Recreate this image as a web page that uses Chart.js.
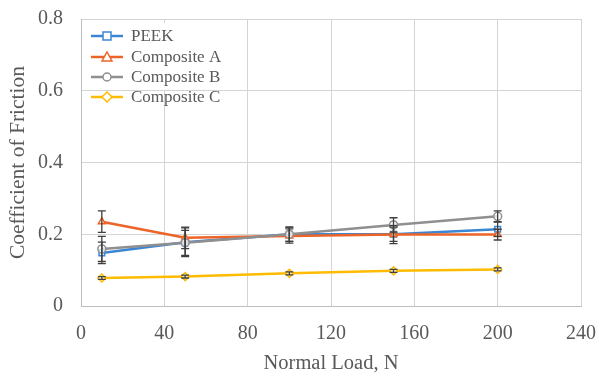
<!DOCTYPE html>
<html>
<head>
<meta charset="utf-8">
<script src="https://cdn.jsdelivr.net/npm/chart.js@4/dist/chart.umd.min.js"></script>
<style>
  html, body { margin: 0; padding: 0; background: #fff; }
  #wrap { width: 606px; height: 376px; position: relative; }
</style>
</head>
<body>
<div id="wrap"><canvas id="chart"></canvas></div>
<script>
const loads = [10, 50, 100, 150, 200]
const seriesNames = ['PEEK', 'Composite A', 'Composite B', 'Composite C']
const peek = [0.148, 0.178, 0.200, 0.200, 0.214]
const compA = [0.235, 0.190, 0.195, 0.199, 0.199]
const compB = [0.159, 0.176, 0.200, 0.226, 0.250]
const compC = [0.078, 0.082, 0.091, 0.098, 0.102]
const peekErr = [0.030, 0.040, 0.020, 0.020, 0.020]
const compAErr = [0.030, 0.030, 0.020, 0.025, 0.015]
const compBErr = [0.035, 0.035, 0.020, 0.020, 0.015]
const compCErr = [0.004, 0.004, 0.004, 0.004, 0.004]
const xTicks = [0, 40, 80, 120, 160, 200, 240]
const yTicks = [0, 0.2, 0.4, 0.6, 0.8]

const FONT = "'Liberation Serif', 'Times New Roman', serif"
const TEXT = '#595959'

const colors = ['#3b86d4', '#ec6427', '#8f8f8f', '#ffbb00']
const styles = ['rect', 'triangle', 'circle', 'rectRot']
const values = [peek, compA, compB, compC]
const errs = [peekErr, compAErr, compBErr, compCErr]

function drawMarker(ctx, style, x, y, r, color) {
  ctx.save()
  ctx.strokeStyle = color
  ctx.fillStyle = '#fff'
  ctx.lineWidth = 1.5
  ctx.beginPath()
  if (style === 'rect') {
    ctx.rect(x - r, y - r, r * 2, r * 2)
  } else if (style === 'triangle') {
    ctx.moveTo(x, y - r - 1)
    ctx.lineTo(x + r + 1, y + r)
    ctx.lineTo(x - r - 1, y + r)
    ctx.closePath()
  } else if (style === 'circle') {
    ctx.arc(x, y, r, 0, Math.PI * 2)
  } else {
    ctx.moveTo(x, y - r - 1)
    ctx.lineTo(x + r + 1, y)
    ctx.lineTo(x, y + r + 1)
    ctx.lineTo(x - r - 1, y)
    ctx.closePath()
  }
  ctx.fill()
  ctx.stroke()
  ctx.restore()
}

const errorBars = {
  id: 'errorBars',
  afterDatasetsDraw(chart) {
    const { ctx, scales } = chart
    ctx.save()
    ctx.strokeStyle = '#3f3f3f'
    ctx.lineWidth = 1.3
    errs.forEach((e, si) => {
      loads.forEach((xv, i) => {
        const px = scales.x.getPixelForValue(xv)
        const top = scales.y.getPixelForValue(values[si][i] + e[i])
        const bot = scales.y.getPixelForValue(values[si][i] - e[i])
        ctx.beginPath()
        ctx.moveTo(px, top); ctx.lineTo(px, bot)
        ctx.moveTo(px - 4, top); ctx.lineTo(px + 4, top)
        ctx.moveTo(px - 4, bot); ctx.lineTo(px + 4, bot)
        ctx.stroke()
      })
    })
    ctx.restore()
  },
}

// legend sits inside the plot, top left, on a white box
const legendBox = {
  id: 'legendBox',
  afterDraw(chart) {
    const { ctx, chartArea } = chart
    const x0 = chartArea.left + 10
    const y0 = chartArea.top + 17
    const rows = [0, 21, 41, 61]
    ctx.save()
    ctx.fillStyle = '#fff'
    ctx.fillRect(chartArea.left + 4, chartArea.top + 4, 150, 67)
    ctx.font = '17px ' + FONT
    ctx.textBaseline = 'middle'
    seriesNames.forEach((name, i) => {
      const y = y0 + rows[i]
      ctx.strokeStyle = colors[i]
      ctx.lineWidth = 2.5
      ctx.beginPath()
      ctx.moveTo(x0, y); ctx.lineTo(x0 + 32, y)
      ctx.stroke()
      drawMarker(ctx, styles[i], x0 + 16, y, 4, colors[i])
      ctx.fillStyle = TEXT
      ctx.fillText(name, x0 + 40, y + 1)
    })
    ctx.restore()
  },
}

const datasets = seriesNames.map((name, si) => ({
  label: name,
  data: loads.map((x, i) => ({ x, y: values[si][i] })),
  borderColor: colors[si],
  backgroundColor: colors[si],
  borderWidth: 2.5,
  pointStyle: styles[si],
  pointRadius: 4,
  pointBorderWidth: 1.5,
  pointBackgroundColor: 'rgba(255,255,255,0.7)',
  pointBorderColor: colors[si],
  tension: 0,
  order: 4 - si,
}))

new Chart(document.getElementById('chart'), {
  type: 'line',
  data: { datasets },
  options: {
    responsive: true,
    maintainAspectRatio: false,
    animation: false,
    layout: { padding: { left: 0, right: 25, top: 19, bottom: 0 } },
    plugins: { legend: { display: false }, tooltip: { enabled: false } },
    scales: {
      x: {
        type: 'linear',
        min: 0,
        max: 240,
        afterBuildTicks: (s) => { s.ticks = xTicks.map((v) => ({ value: v })) },
        afterFit: (s) => { s.height = 70; s.paddingLeft = 0; s.paddingRight = 0 },
        ticks: { color: TEXT, font: { family: FONT, size: 20 }, padding: 16, maxRotation: 0 },
        grid: { color: '#d4d4d4', drawTicks: false },
        border: { color: '#bfbfbf' },
        title: { display: true, text: 'Normal Load, N', color: TEXT, font: { family: FONT, size: 20.5 }, padding: { top: 0, bottom: 0 } },
      },
      y: {
        min: 0,
        max: 0.8,
        afterBuildTicks: (s) => { s.ticks = yTicks.map((v) => ({ value: v })) },
        afterFit: (s) => { s.width = 81; s.paddingTop = 0; s.paddingBottom = 0 },
        ticks: {
          color: TEXT,
          font: { family: FONT, size: 20 },
          padding: 18,
          callback: (v) => (v === 0 ? '0' : v.toFixed(1)),
        },
        grid: { color: '#d4d4d4', drawTicks: false },
        border: { color: '#bfbfbf' },
        title: { display: true, text: 'Coefficient of Friction', color: TEXT, font: { family: FONT, size: 21.5 }, padding: { top: 5, bottom: 0 } },
      },
    },
  },
  plugins: [errorBars, legendBox],
})
</script>
</body>
</html>
